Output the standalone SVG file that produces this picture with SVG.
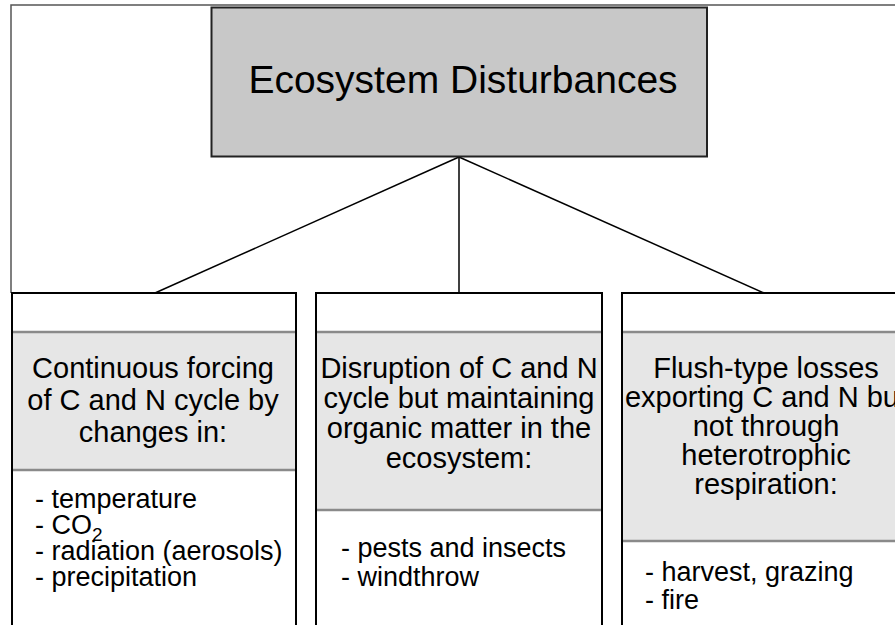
<svg xmlns="http://www.w3.org/2000/svg" width="895" height="625" viewBox="0 0 895 625">
<style>
  text { font-family: "Liberation Sans", Arial, sans-serif; fill: #000; }
  .title { font-size: 39px; text-anchor: middle; }
  .head { font-size: 29px; text-anchor: middle; }
  .body { font-size: 27px; }
  .box { fill: #fff; stroke: #000; stroke-width: 2; }
  .band { fill: #e6e6e6; stroke: none; }
  .bandline { stroke: #8a8a8a; stroke-width: 2.5; }
  .conn { stroke: #000; stroke-width: 1.5; fill: none; }
</style>
<rect x="0" y="0" width="895" height="625" fill="#fff"/>
<g id="frame">
  <path d="M11,293 V5 H895" fill="none" stroke="#555" stroke-width="1.5"/>
</g>
<g id="connectors">
  <line class="conn" x1="459" y1="157" x2="155" y2="293"/>
  <line class="conn" x1="459" y1="157" x2="459" y2="293"/>
  <line class="conn" x1="459" y1="157" x2="764" y2="293"/>
</g>
<g id="root">
  <rect x="211.5" y="7.5" width="495.5" height="149" fill="#c8c8c8" stroke="#222" stroke-width="2"/>
  <text class="title" x="463" y="93">Ecosystem Disturbances</text>
</g>
<g id="continuous">
  <rect class="box" x="12" y="293" width="284" height="350"/>
  <rect class="band" x="13" y="332" width="282" height="138"/>
  <line class="bandline" x1="13" y1="332" x2="295" y2="332"/>
  <line class="bandline" x1="13" y1="470" x2="295" y2="470"/>
  <text class="head"><tspan x="153" y="378">Continuous forcing</tspan><tspan x="153" y="410">of C and N cycle by</tspan><tspan x="153" y="442">changes in:</tspan></text>
  <text class="body"><tspan x="35" y="508">- temperature</tspan><tspan x="35" y="534">- CO</tspan><tspan font-size="19" dy="7">2</tspan><tspan x="35" y="560">- radiation (aerosols)</tspan><tspan x="35" y="586">- precipitation</tspan></text>
</g>
<g id="disruption">
  <rect class="box" x="316" y="293" width="286" height="350"/>
  <rect class="band" x="317" y="332" width="284" height="178"/>
  <line class="bandline" x1="317" y1="332" x2="601" y2="332"/>
  <line class="bandline" x1="317" y1="510" x2="601" y2="510"/>
  <text class="head"><tspan x="459" y="378">Disruption of C and N</tspan><tspan x="459" y="408">cycle but maintaining</tspan><tspan x="459" y="438">organic matter in the</tspan><tspan x="459" y="468">ecosystem:</tspan></text>
  <text class="body"><tspan x="341" y="557">- pests and insects</tspan><tspan x="341" y="586">- windthrow</tspan></text>
</g>
<g id="flush">
  <rect class="box" x="622" y="293" width="286" height="350"/>
  <rect class="band" x="623" y="332" width="284" height="209"/>
  <line class="bandline" x1="623" y1="332" x2="907" y2="332"/>
  <line class="bandline" x1="623" y1="541" x2="907" y2="541"/>
  <text class="head"><tspan x="766" y="378">Flush-type losses</tspan><tspan x="766" y="407">exporting C and N but</tspan><tspan x="766" y="436">not through</tspan><tspan x="766" y="465">heterotrophic</tspan><tspan x="766" y="494">respiration:</tspan></text>
  <text class="body"><tspan x="645" y="581">- harvest, grazing</tspan><tspan x="645" y="609">- fire</tspan></text>
</g>
</svg>
